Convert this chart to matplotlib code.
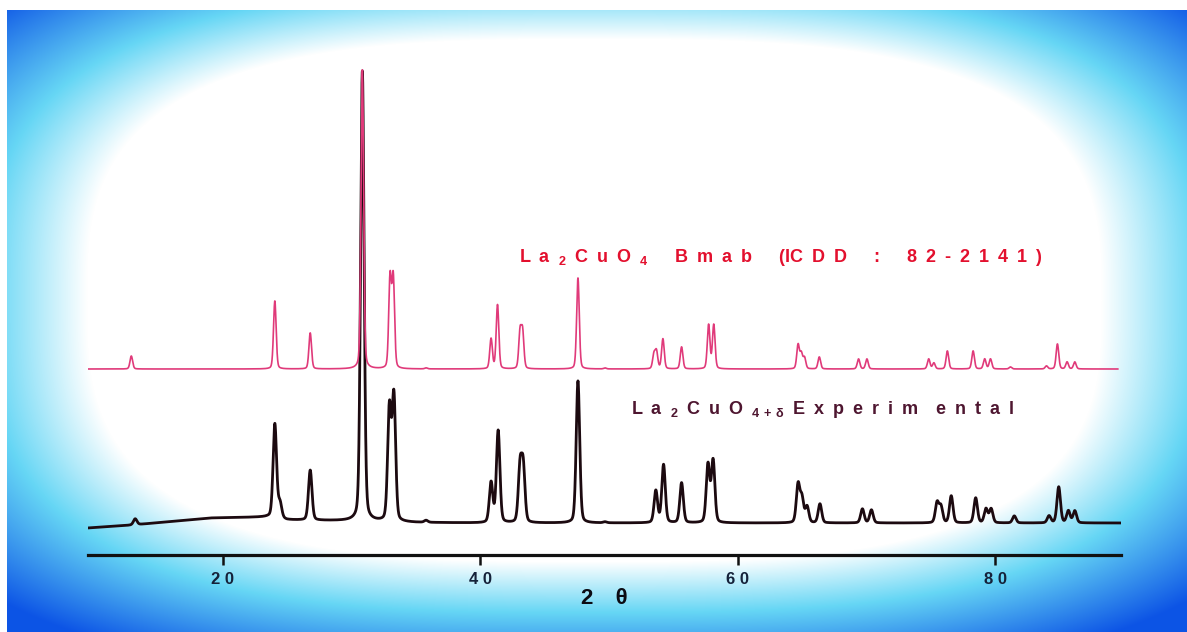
"""
XRD pattern: La2CuO4 reference (ICDD 82-2141, Bmab) vs. experimental La2CuO4+d
Scanned-figure look: blue vignette background, bottom 2-theta axis only.
"""
import numpy as np
import matplotlib
matplotlib.use("Agg")
import matplotlib.pyplot as plt

plt.rcParams['font.family'] = ['Liberation Sans', 'DejaVu Sans']
plt.rcParams['mathtext.default'] = 'regular'

# ------------------------------ DATA --------------------------------------- #
# Reference pattern (ICDD 82-2141): peak positions (2theta, deg) and heights (a.u.)
ref_pos = [12.9, 24.05, 26.8, 30.85, 33.0, 33.25, 35.8, 40.85, 41.35, 43.1, 43.3,
           47.6, 49.7, 53.5, 53.7, 54.2, 55.65, 57.75, 58.15, 64.7, 64.95, 65.2,
           66.35, 69.4, 70.05, 74.85, 75.25, 76.3, 78.3, 79.2, 79.65, 81.2,
           84.0, 84.85, 85.6, 86.2]
ref_int = [13, 68, 36, 299, 90, 90, 1, 30, 64, 36, 36,
           91, 1, 14, 17, 30, 22, 44, 44, 24, 15, 11,
           12, 10, 10, 10, 6, 18, 18, 10, 10, 2,
           3, 25, 7, 7]

# Experimental pattern: peak positions (2theta, deg) and heights (a.u.)
exp_pos = [13.2, 24.05, 24.45, 26.8, 30.85, 32.95, 33.3, 35.8, 40.85, 41.4, 43.1,
           43.35, 47.6, 49.7, 53.65, 54.25, 55.65, 57.7, 58.1, 64.7, 65.0, 65.4,
           66.4, 69.7, 70.4, 75.5, 75.8, 76.6, 78.5, 79.3, 79.7, 81.5,
           84.2, 84.95, 85.7, 86.2]
exp_int = [6, 94, 15, 50, 450, 112, 124, 2, 40, 92, 54,
           54, 142, 1, 32, 58, 40, 58, 62, 38, 24, 16,
           19, 14, 13, 20, 16, 27, 25, 14, 14, 7,
           7, 36, 12, 12]

# Experimental background (2theta, level relative to flat baseline)
bkg_pos = [9.5, 13.0, 19.0, 23.5, 25.0, 30.0, 35.0, 40.0, 90.0]
bkg_lvl = [-5, -2, 5, 6, 3, 2, 0.5, 0, 0]

tick_vals   = [20, 40, 60, 80]
tick_labels = ["2 0", "4 0", "6 0", "8 0"]

E, M = "\u2002", "\u2003"   # en / em spaces for the wide letter spacing of the scan
ref_label = (E.join("La") + E + "$_2$" + E + E.join("CuO") + E + "$_4$" + M + E
             + E.join("Bmab") + M + E + "(IC" + E + E.join("DD") + M + E + ":" + M + E
             + E.join("82-2141)"))
exp_label = (E.join("La") + E + "$_2$" + E + E.join("CuO") + E + r"$_{4\,+\,δ}$" + E
             + E.join("Experim") + M + E.join("ental"))
x_label = "2\u2003θ"
# --------------------------------------------------------------------------- #

W, H = 1187, 632
fig = plt.figure(figsize=(W / 100, H / 100), dpi=100)

# ---------------- scanned blue vignette background ---------------- #
yy, xx = np.mgrid[0:H, 0:W]
p = 3.0
d = (np.abs((xx - 594) / 650.0) ** p + np.abs((yy - 300) / 335.0) ** p) ** (1 / p)
t = np.clip((d - 0.78) / 0.36, 0, 1)
white = np.array([1.0, 1.0, 1.0])
cyan  = np.array([0.40, 0.84, 0.96])
blue  = np.array([0.05, 0.33, 0.90])
t1 = np.clip(t / 0.42, 0, 1)[..., None]
t2 = np.clip((t - 0.42) / 0.58, 0, 1)[..., None]
bg = white * (1 - t1) + cyan * t1
bg = bg * (1 - t2) + blue * t2
bg[:10, :, :] = 1.0      # white scan border on top
bg[:, :7, :] = 1.0       # and on the left

bg_ax = fig.add_axes([0, 0, 1, 1], zorder=0)
bg_ax.imshow(bg, aspect='auto', interpolation='bilinear')
bg_ax.set_axis_off()

# ----------------------------- axes ------------------------------- #
px_per_deg = (995 - 222.7) / 60.0
x0_px, x1_px = 88, 1121
xmin = 20 - (222.7 - x0_px) / px_per_deg
xmax = 80 + (x1_px - 995) / px_per_deg
ax_bottom_px, ax_top_px = 555, 60
ax = fig.add_axes([x0_px / W, (H - ax_bottom_px) / H,
                   (x1_px - x0_px) / W, (ax_bottom_px - ax_top_px) / H], zorder=1)
ax.patch.set_alpha(0)
ax.set_xlim(xmin, xmax)
ax.set_ylim(0, ax_bottom_px - ax_top_px)


def pattern(x, pos, inten, hwhm, eta=0.25):
    """Sum of pseudo-Voigt peaks at the given positions and heights."""
    y = np.zeros_like(x)
    for pk, h in zip(pos, inten):
        u = (x - pk) / hwhm
        y += h * (eta / (1 + u ** 2) + (1 - eta) * np.exp(-np.log(2) * u ** 2))
    return y


ref_offset = 186   # vertical stacking of the two patterns
exp_offset = 32

x_ref = np.arange(9.55, 89.55, 0.01)
x_exp = np.arange(9.55, 89.8, 0.01)
y_ref = ref_offset + pattern(x_ref, ref_pos, ref_int, 0.12)
y_exp = exp_offset + np.interp(x_exp, bkg_pos, bkg_lvl) + pattern(x_exp, exp_pos, exp_int, 0.16)

ax.plot(x_exp, y_exp, color='#1c0a10', lw=2.0, zorder=2)
ax.plot(x_ref, y_ref, color='#e03a7a', lw=1.2, zorder=3)

# --------------------------- labels ------------------------------- #
ax.text(43.0, 298, ref_label, color='#e3102e', fontsize=13, fontweight='bold',
        ha='left', va='center')
ax.text(51.7, 146, exp_label, color='#4e1630', fontsize=13, fontweight='bold',
        ha='left', va='center')

for s in ['top', 'left', 'right']:
    ax.spines[s].set_visible(False)
ax.spines['bottom'].set_linewidth(2.3)
ax.spines['bottom'].set_color('#111111')
ax.set_yticks([])
ax.set_xticks(tick_vals)
ax.set_xticklabels(tick_labels, fontsize=12, fontweight='bold', color='#15223a')
ax.tick_params(axis='x', direction='out', length=7, width=1.8, pad=5, color='#111111')
ax.set_xlabel(x_label, fontsize=16, fontweight='bold', color='#0c0c14', labelpad=1)

fig.savefig("out.png", dpi=100)
